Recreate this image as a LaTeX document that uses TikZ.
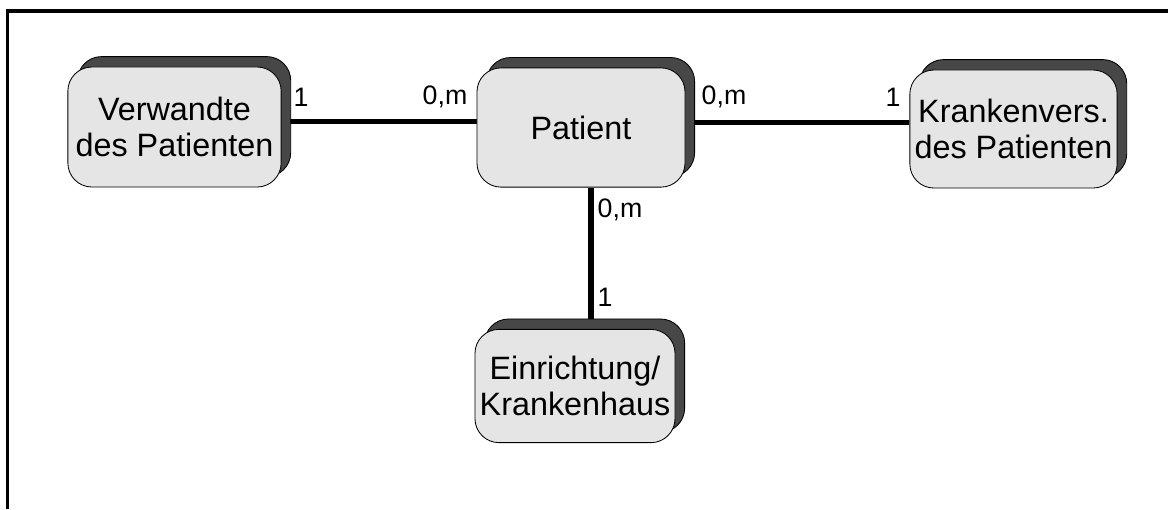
\documentclass[tikz,border=0pt]{standalone}
\usepackage{fontspec}
\setmainfont{Liberation Sans}
\usetikzlibrary{shadows,backgrounds}

\begin{document}
\begin{tikzpicture}[
  x=0.025cm,y=-0.025cm,
  entity/.style={draw=black,line width=0.6pt,fill=black!10,rounded corners=0.6cm,
                 align=center,font=\fontsize{23}{25.5}\selectfont,
                 copy shadow={shadow xshift=0.24cm,shadow yshift=0.26cm,
                              fill=black!72,draw=black,line width=0.6pt}},
  card/.style={font=\fontsize{19}{22}\selectfont,inner sep=1pt},
  conn/.style={line width=3.6pt},
]
\useasboundingbox (0,0) rectangle (1168,509);

% ---- frame ----
\draw[line width=2.2pt] (7.5,509) -- (7.5,11) -- (1168,11);

% ---- entities ----
\node[entity,minimum width=5.33cm,minimum height=3cm]    (verw)    at (174.5,127) {Verwandte\\des Patienten};
\node[entity,minimum width=5.2cm,minimum height=2.98cm]  (patient) at (581,127.5) {Patient};
\node[entity,minimum width=5.18cm,minimum height=2.95cm] (kasse)   at (1013.5,129) {Krankenvers.\\des Patienten};
\node[entity,minimum width=5cm,minimum height=2.83cm]    (einr)    at (575,386) {Einrichtung/\\Krankenhaus};

% ---- relations ----
\begin{scope}[on background layer]
  \draw[conn] ([yshift=0.13cm]verw.east) -- ([yshift=0.13cm]verw.east -| patient.west);
  \draw[conn] ([yshift=0.13cm]patient.east) -- ([yshift=0.13cm]patient.east -| kasse.west);
  \draw[conn] ([xshift=0.25cm]patient.south) -- ([xshift=0.25cm]patient.south |- einr.north);
\end{scope}

% ---- cardinalities ----
\node[card] (cv)  at (301,97)  {1};
\node[card] (cpv) at (445,97)  {0,m};
\node[card] (cpk) at (724,97)  {0,m};
\node[card] (ck)  at (893,97)  {1};
\node[card] (cpe) at (620,210) {0,m};
\node[card] (ce)  at (605,297) {1};

\end{tikzpicture}
\end{document}
